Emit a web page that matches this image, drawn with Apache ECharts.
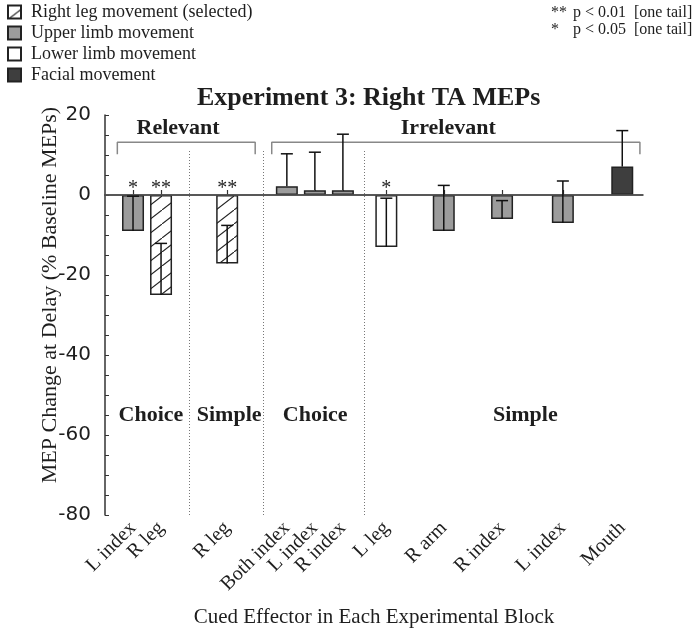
<!DOCTYPE html>
<html>
<head>
<meta charset="utf-8">
<script src="https://cdn.jsdelivr.net/npm/echarts@6/dist/echarts.min.js"></script>
<style>
html, body { margin: 0; padding: 0; background: #fff; }
#main { width: 700px; height: 637px; }
</style>
</head>
<body>
<div id="main"></div>
<script>
// cued effector per block, with its place on the x axis (in slot units)
var effector = ['L index', 'R leg', 'R leg', 'Both index', 'L index', 'R index', 'L leg', 'R arm', 'R index', 'L index', 'Mouth']
var slot = [1.0, 2.0, 4.36, 6.49, 7.49, 8.49, 10.04, 12.09, 14.17, 16.34, 18.46]
var mep = [-9, -25, -17.1, 2.2, 1.2, 1.2, -13, -9, -6, -7, 7.1]
var sem = [8.7, 12.9, 9.5, 8.1, 9.5, 14, 12.2, 11.4, 4.6, 10.5, 9]
var kind = [1, 0, 0, 1, 1, 1, 2, 1, 1, 1, 3]
var stars = ['*', '**', '**', '', '', '', '*', '', '', '', '']
var kindNames = ['Right leg movement (selected)', 'Upper limb movement', 'Lower limb movement', 'Facial movement']

// block dividers and annotations
var dividers = [3.01, 5.66, 9.26]
var blockNames = ['Choice', 'Simple', 'Choice', 'Simple']
var blockX = [1.64, 4.43, 7.5, 15.0]
var groupNames = ['Relevant', 'Irrelevant']
var groupX = [2.61, 12.25]
var bracketFrom = [0.44, 5.95]
var bracketTo = [5.36, 19.09]

var serif = 'Liberation Serif'
var ink = '#1e1e1e'

function hatch() {
  var c = document.createElement('canvas')
  c.width = 18
  c.height = 14
  var g = c.getContext('2d')
  g.fillStyle = '#fff'
  g.fillRect(0, 0, 18, 14)
  g.strokeStyle = '#222'
  g.lineWidth = 1.1
  g.beginPath()
  g.moveTo(-18, 28)
  g.lineTo(36, -14)
  g.stroke()
  return c
}

var fills = [{ image: hatch(), repeat: 'repeat' }, '#9c9c9c', '#ffffff', '#3e3e3e']

var series = []
kindNames.forEach(function (name, k) {
  var d = []
  for (var i = 0; i < slot.length; i++) {
    if (kind[i] === k) d.push([slot[i], mep[i]])
  }
  series.push({
    name: name,
    type: 'bar',
    barWidth: 22,
    barGap: '-100%',
    itemStyle: { color: fills[k], borderColor: '#222', borderWidth: 1.5 },
    data: d
  })
})

// zero line + dotted dividers
series[0].markLine = {
  silent: true,
  symbol: ['none', 'none'],
  label: { show: false },
  data: [{ yAxis: 0, lineStyle: { color: '#555', width: 1.5, type: 'solid' } }].concat(
    dividers.map(function (x) {
      return [{ coord: [x, 11], lineStyle: { color: '#777', width: 1, type: [1, 2] } }, { coord: [x, -80] }]
    })
  )
}

// brackets
bracketFrom.forEach(function (x0, i) {
  series.push({
    type: 'line',
    silent: true,
    symbol: 'none',
    lineStyle: { color: '#888', width: 1.5 },
    data: [[x0, 10.2], [x0, 13.2], [bracketTo[i], 13.2], [bracketTo[i], 10.2]]
  })
})

// error bars and significance stars
series.push({
  type: 'custom',
  silent: true,
  z: 5,
  data: slot.map(function (x, i) { return [x, mep[i], mep[i] + sem[i]] }),
  renderItem: function (params, api) {
    var a = api.coord([api.value(0), api.value(1)])
    var b = api.coord([api.value(0), api.value(2)])
    var z = api.coord([api.value(0), 0])
    var kids = [
      { type: 'line', shape: { x1: a[0], y1: a[1], x2: b[0], y2: b[1] }, style: { stroke: '#111', lineWidth: 1.5 } },
      { type: 'line', shape: { x1: b[0] - 6, y1: b[1], x2: b[0] + 6, y2: b[1] }, style: { stroke: '#111', lineWidth: 1.5 } }
    ]
    var s = stars[params.dataIndex]
    if (s) {
      kids.push({
        type: 'text',
        style: { text: s, x: z[0], y: z[1] + 4, align: 'center', verticalAlign: 'bottom', font: '20px ' + serif, fill: ink }
      })
    }
    return { type: 'group', children: kids }
  }
})

// block / group labels
var notes = []
blockNames.forEach(function (t, i) { notes.push([blockX[i], -55, t]) })
groupNames.forEach(function (t, i) { notes.push([groupX[i], 16.75, t]) })
series.push({
  type: 'custom',
  silent: true,
  z: 6,
  data: notes.map(function (n) { return [n[0], n[1]] }),
  renderItem: function (params, api) {
    var p = api.coord([api.value(0), api.value(1)])
    return {
      type: 'text',
      style: {
        text: notes[params.dataIndex][2], x: p[0], y: p[1], align: 'center', verticalAlign: 'middle',
        font: 'bold 22px ' + serif, fill: ink
      }
    }
  }
})

var chart = echarts.init(document.getElementById('main'))
chart.setOption({
  animation: false,
  title: {
    text: 'Experiment 3: Right TA MEPs',
    left: 197,
    top: 85,
    padding: 0,
    textStyle: { fontFamily: serif, fontWeight: 'bold', fontSize: 26, color: ink }
  },
  legend: {
    orient: 'vertical',
    left: 2,
    top: -2,
    itemWidth: 13,
    itemHeight: 13,
    itemGap: 3,
    icon: 'rect',
    selectedMode: false,
    data: kindNames,
    textStyle: { fontFamily: serif, fontSize: 18, color: ink, padding: [0, 0, 0, 5], lineHeight: 14 }
  },
  grid: { left: 105, right: 57, top: 115, bottom: 122 },
  xAxis: {
    type: 'value',
    min: 0,
    max: 19.2,
    splitLine: { show: false },
    axisLine: { lineStyle: { color: '#333', width: 1.5 } },
    axisTick: { inside: true, length: 5, customValues: slot, lineStyle: { color: '#333', width: 1.2 } },
    axisLabel: {
      customValues: slot,
      rotate: 45,
      margin: 10,
      fontFamily: serif,
      fontSize: 20,
      color: ink,
      formatter: function (v) {
        var best = 0
        for (var i = 1; i < slot.length; i++) {
          if (Math.abs(slot[i] - v) < Math.abs(slot[best] - v)) best = i
        }
        return effector[best]
      }
    },
    name: 'Cued Effector in Each Experimental Block',
    nameLocation: 'middle',
    nameGap: 92,
    nameTextStyle: { fontFamily: serif, fontSize: 21, color: ink }
  },
  yAxis: {
    type: 'value',
    min: -80,
    max: 20,
    interval: 20,
    splitLine: { show: false },
    axisLine: { show: true, lineStyle: { color: '#333', width: 1.5 } },
    axisTick: { show: true, inside: true, length: 4, lineStyle: { color: '#333' } },
    minorTick: { show: true, splitNumber: 4, length: 4, lineStyle: { color: '#333' } },
    axisLabel: { margin: 14, fontFamily: 'DejaVu Sans', fontSize: 20, color: ink }
  },
  graphic: [
    {
      type: 'text', x: 50, y: 295, rotation: Math.PI / 2,
      style: { text: 'MEP Change at Delay (% Baseline MEPs)', align: 'center', verticalAlign: 'middle', font: '22px ' + serif, fill: ink }
    },
    { type: 'text', x: 551, y: 13, style: { text: '**', verticalAlign: 'middle', font: '16px ' + serif, fill: ink } },
    { type: 'text', x: 573, y: 13, style: { text: 'p < 0.01  [one tail]', verticalAlign: 'middle', font: '16px ' + serif, fill: ink } },
    { type: 'text', x: 551, y: 30, style: { text: '*', verticalAlign: 'middle', font: '16px ' + serif, fill: ink } },
    { type: 'text', x: 573, y: 30, style: { text: 'p < 0.05  [one tail]', verticalAlign: 'middle', font: '16px ' + serif, fill: ink } }
  ],
  series: series
})
</script>
</body>
</html>
